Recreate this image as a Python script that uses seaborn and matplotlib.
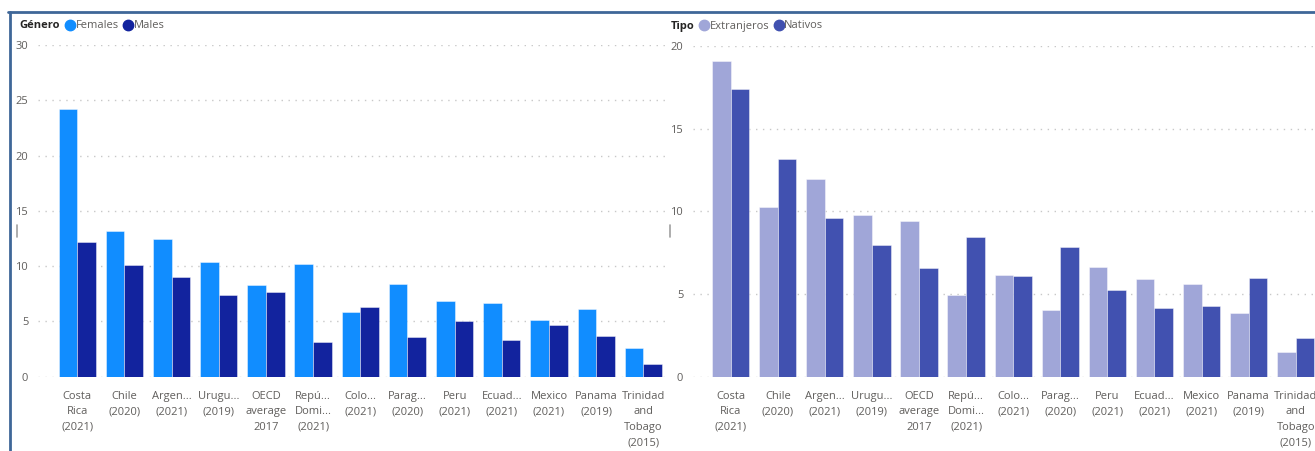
import pandas as pd
import matplotlib.pyplot as plt
import seaborn as sns
from matplotlib.lines import Line2D

sns.set_style('white')
plt.rcParams['font.family'] = ['Open Sans', 'DejaVu Sans']

# Data
countries = ['Costa\nRica\n(2021)', 'Chile\n(2020)', 'Argen...\n(2021)', 'Urugu...\n(2019)',
             'OECD\naverage\n2017', 'Repú...\nDomi...\n(2021)', 'Colo...\n(2021)', 'Parag...\n(2020)',
             'Peru\n(2021)', 'Ecuad...\n(2021)', 'Mexico\n(2021)', 'Panama\n(2019)',
             'Trinidad\nand\nTobago\n(2015)']
females = [24.25, 13.2, 12.44, 10.4, 8.3, 10.2, 5.87, 8.35, 6.81, 6.69, 5.15, 6.12, 2.62]
males = [12.14, 10.1, 9.0, 7.35, 7.62, 3.16, 6.3, 3.56, 5.03, 3.31, 4.64, 3.71, 1.18]
extranjeros = [19.1, 10.28, 11.94, 9.78, 9.4, 4.96, 6.13, 4.03, 6.62, 5.89, 5.59, 3.85, 1.51]
nativos = [17.38, 13.15, 9.58, 7.99, 6.56, 8.45, 6.07, 7.85, 5.26, 4.14, 4.28, 5.99, 2.32]

genero_labels = ['Females', 'Males']
tipo_labels = ['Extranjeros', 'Nativos']
genero_colors = ['#118DFF', '#12239E']
tipo_colors = ['#A0A6D8', '#4151B0']

df_gen = pd.DataFrame({'pais': countries * 2,
                       'valor': females + males,
                       'Género': [genero_labels[0]] * 13 + [genero_labels[1]] * 13})
df_tipo = pd.DataFrame({'pais': countries * 2,
                        'valor': extranjeros + nativos,
                        'Tipo': [tipo_labels[0]] * 13 + [tipo_labels[1]] * 13})

W, H = 1315, 451
fig = plt.figure(figsize=(W / 100, H / 100), dpi=100)

grey = '#605E5C'
ax1 = fig.add_axes([38 / W, (H - 376.7) / H, (667 - 38) / W, (376.7 - 45) / H])
ax2 = fig.add_axes([693 / W, (H - 376.7) / H, (W - 693) / W, (376.7 - 46) / H])


def draw(ax, df, hue, labels, colors, ymax, step, xlim, title, tx, lx):
    sns.barplot(data=df, x='pais', y='valor', hue=hue, hue_order=labels,
                palette=colors, width=0.79, ax=ax, legend=False,
                edgecolor=(1, 1, 1, 0.5), linewidth=0.6, saturation=1)
    ax.set_ylim(0, ymax)
    ax.set_xlim(*xlim)
    ax.set_yticks(range(0, ymax + 1, step))
    ax.set_xlabel('')
    ax.set_ylabel('')
    ax.yaxis.grid(True, color='#C8C8C8', linestyle=(0, (1, 4)), linewidth=1)
    ax.set_axisbelow(True)
    sns.despine(ax=ax, left=True, bottom=True)
    ax.tick_params(axis='both', length=0, labelsize=8, labelcolor=grey)
    ax.tick_params(axis='y', pad=7)
    ax.tick_params(axis='x', pad=10)
    for t in ax.get_xticklabels():
        t.set_linespacing(1.58)
        t.set_multialignment('center')
    ax.patch.set_alpha(0)
    # legend row
    fig.text(tx / W, 1 - 26 / H, title, fontsize=8, fontweight='bold',
             color='#252423', va='center')
    handles = [Line2D([], [], marker='o', linestyle='', markersize=7.5,
                      markerfacecolor=c, markeredgecolor=c) for c in colors]
    ax.legend(handles, labels, ncol=2, loc='center left',
              bbox_to_anchor=(lx / W, 1 - 26 / H),
              bbox_transform=fig.transFigure, frameon=False, fontsize=8,
              handlelength=0.7, handletextpad=0.15, columnspacing=0.5,
              borderpad=0, borderaxespad=0, labelcolor=grey)


draw(ax1, df_gen, 'Género', genero_labels, genero_colors, 30, 5, (-0.83, 12.5), 'Género', 19, 66)
draw(ax2, df_tipo, 'Tipo', tipo_labels, tipo_colors, 20, 5, (-0.80, 12.41), 'Tipo', 671, 700)

# report frame
frame = '#3F6798'
fig.add_artist(Line2D([8 / W, 1], [1 - 12 / H, 1 - 12 / H], color=frame, linewidth=2))
fig.add_artist(Line2D([10 / W, 10 / W], [0, 1 - 12 / H], color=frame, linewidth=2))
fig.add_artist(Line2D([17 / W, 17 / W], [1 - 237 / H, 1 - 225 / H], color='#A0A0A0', linewidth=1.2))
fig.add_artist(Line2D([670 / W, 670 / W], [1 - 237 / H, 1 - 225 / H], color='#A0A0A0', linewidth=1.2))

fig.savefig('out.png', dpi=100)
